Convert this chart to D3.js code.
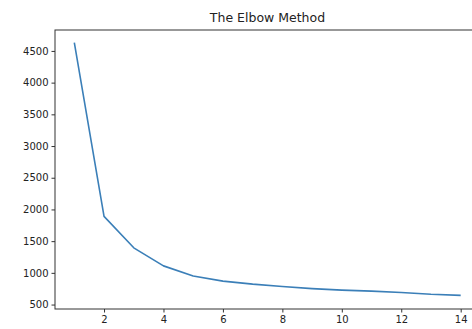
<!DOCTYPE html>
<html>
<head>
<meta charset="utf-8">
<script src="https://cdn.jsdelivr.net/npm/d3@7"></script>
<style>
  body { margin: 0; background: #fff; }
  svg { display: block; font-family: "DejaVu Sans", sans-serif; }
</style>
</head>
<body>
<svg id="chart"></svg>
<script>
const clusters = [1, 2, 3, 4, 5, 6, 7, 8, 9, 10, 11, 12, 13, 14];
const wcss = [4630, 1890, 1395, 1110, 950, 870, 822, 785, 752, 728, 712, 690, 662, 645];
const xTicks = [2, 4, 6, 8, 10, 12, 14];
const yTicks = [500, 1000, 1500, 2000, 2500, 3000, 3500, 4000, 4500];

const width = 472, height = 329;
const margin = { top: 30, right: -8, bottom: 20, left: 55 };
const innerW = width - margin.left - margin.right;
const innerH = height - margin.top - margin.bottom;

const svg = d3.select("#chart").attr("width", width).attr("height", height);

const x = d3.scaleLinear().domain([0.35, 14.65]).range([0, innerW]);
const y = d3.scaleLinear().domain([430, 4830]).range([innerH, 0]);

const g = svg.append("g")
    .attr("transform", `translate(${margin.left}, ${margin.top})`);

const xAxis = g.append("g")
    .attr("transform", `translate(0, ${innerH})`)
    .call(d3.axisBottom(x).tickValues(xTicks).tickFormat(d3.format("d")).tickSize(3.5).tickPadding(3));

const yAxis = g.append("g")
    .call(d3.axisLeft(y).tickValues(yTicks).tickFormat(d3.format("d")).tickSize(3.5).tickPadding(3));

[xAxis, yAxis].forEach(a => {
    a.select(".domain").remove();
    a.selectAll("text").attr("font-size", 10).attr("fill", "#222")
        .attr("font-family", "DejaVu Sans, sans-serif");
    a.selectAll("line").attr("stroke", "#333");
});

// frame
g.append("rect")
    .attr("width", innerW).attr("height", innerH)
    .attr("fill", "none").attr("stroke", "#333").attr("stroke-width", 1);

const line = d3.line().x((d, i) => x(clusters[i])).y(d => y(d));

g.append("path")
    .datum(wcss)
    .attr("fill", "none")
    .attr("stroke", "#3b7fb8")
    .attr("stroke-width", 1.6)
    .attr("stroke-linejoin", "round")
    .attr("d", line);

svg.append("text")
    .attr("x", margin.left + innerW / 2)
    .attr("y", margin.top - 8)
    .attr("text-anchor", "middle")
    .attr("font-size", 12.5)
    .attr("fill", "#222")
    .text("The Elbow Method");
</script>
</body>
</html>
